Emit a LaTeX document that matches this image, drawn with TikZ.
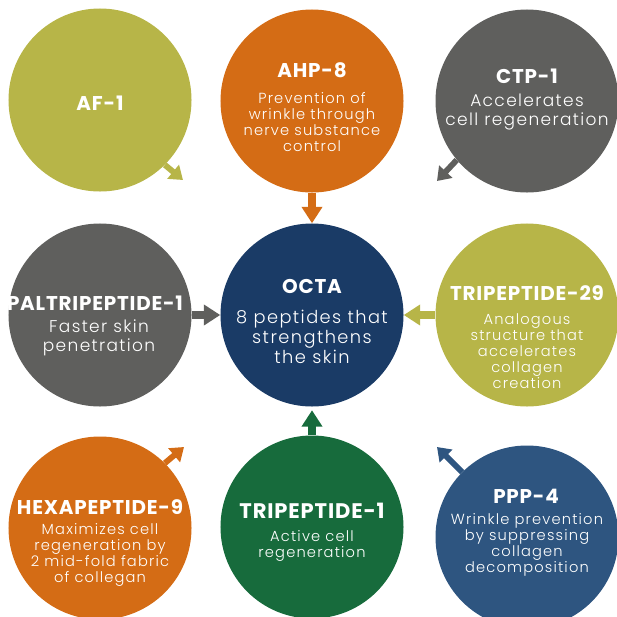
\documentclass[tikz,border=0pt]{standalone}
\usepackage{fontspec}
\setmainfont{Poppins}
\newfontfamily\bodyfont{Poppins Light}[LetterSpace=8]
\newfontfamily\titlefont{Poppins}[LetterSpace=4]
\usetikzlibrary{arrows.meta}

\definecolor{pepolive}{HTML}{B7B548}
\definecolor{peporange}{HTML}{D46C15}
\definecolor{pepgray}{HTML}{5F5F5D}
\definecolor{pepnavy}{HTML}{1A3B66}
\definecolor{pepgreen}{HTML}{176B3C}
\definecolor{pepblue}{HTML}{2E5580}

\tikzset{
  bubble/.style={circle, fill=#1, minimum size=5.49cm, inner sep=0pt},
  title/.style={text=white, inner sep=0pt, font=\titlefont\bfseries\fontsize{17}{19}\selectfont},
  bigtitle/.style={title, font=\titlefont\bfseries\fontsize{18}{20}\selectfont},
  blurb/.style={text=white, inner sep=0pt, align=center, font=\bodyfont\fontsize{12.5}{13.6}\selectfont},
  bigblurb/.style={blurb, font=\bodyfont\fontsize{14.5}{16.3}\selectfont},
  pointer/.style={draw=#1, line width=6pt, -{Triangle[length=14pt, width=17pt]}},
  diagpointer/.style={draw=#1, line width=5pt, -{Triangle[length=11pt, width=15pt]}}
}

\begin{document}
\begin{tikzpicture}[x=0.03cm, y=-0.03cm]
	\useasboundingbox (0,0) rectangle (616,617);

	% the nine circles
	\node[bubble=pepolive]  (af1)  at (100,100) {};
	\node[bubble=peporange] (ahp)  at (312,101) {};
	\node[bubble=pepgray]   (ctp)  at (527,101) {};
	\node[bubble=pepgray]   (paltri) at (100,315) {};
	\node[bubble=pepnavy]   (octa) at (312,315) {};
	\node[bubble=pepolive]  (tri29) at (527,315) {};
	\node[bubble=peporange] (hexa) at (100,528) {};
	\node[bubble=pepgreen]  (tri1) at (312,527) {};
	\node[bubble=pepblue]   (ppp)  at (527,537) {};

	% titles
	\node[title]    (af1-title)    at (100,103) {AF-1};
	\node[title]    (ahp-title)    at (312,70)  {AHP-8};
	\node[title]    (ctp-title)    at (527,76)  {CTP-1};
	\node[title]    (paltri-title) at (95,303)  {PALTRIPEPTIDE-1};
	\node[title]    (octa-title)   at (312,286) {OCTA};
	\node[title]    (tri29-title)  at (527,293) {TRIPEPTIDE-29};
	\node[title]    (hexa-title)   at (100,507) {HEXAPEPTIDE-9};
	\node[bigtitle] (tri1-title)   at (312,511) {TRIPEPTIDE-1};
	\node[title]    (ppp-title)    at (526,496) {PPP-4};

	% descriptions
	\node[blurb]    (ahp-text)    at (312,122) {Prevention of\\wrinkle through\\nerve substance\\control};
	\node[bigblurb] (ctp-text)    at (527,112) {Accelerates\\cell regeneration};
	\node[bigblurb] (paltri-text) at (99,338)  {Faster skin\\penetration};
	\node[bigblurb, font=\bodyfont\fontsize{15.2}{16.8}\selectfont]
	                (octa-text)   at (312,337) {8 peptides that\\strengthens\\the skin};
	\node[blurb]    (tri29-text)  at (527,351) {Analogous\\structure that\\accelerates\\collagen\\creation};
	\node[blurb]    (hexa-text)   at (100,555) {Maximizes cell\\regeneration by\\2 mid-fold fabric\\of collegan};
	\node[blurb]    (tri1-text)   at (312,546) {Active cell\\regeneration};
	\node[blurb]    (ppp-text)    at (527,545) {Wrinkle prevention\\by suppressing\\collagen\\decomposition};

	% free ends of the corner arrows
	\coordinate (af1-tip)  at (183,180);
	\coordinate (ctp-tip)  at (437,181);
	\coordinate (hexa-tip) at (184,447);
	\coordinate (ppp-tip)  at (437,447);

	% arrows
	\draw[pointer=peporange] (ahp.south) -- (octa.north);
	\draw[pointer=pepgray]   (paltri.east) -- (octa.west);
	\draw[pointer=pepolive]  (tri29.west) -- (octa.east);
	\draw[pointer=pepgreen]  (tri1.north) -- ([yshift=-3pt]octa.south);
	\draw[diagpointer=pepolive]  (af1.-45) -- (af1-tip);
	\draw[diagpointer=pepgray]   (ctp.220) -- (ctp-tip);
	\draw[diagpointer=peporange] (hexa.45) -- (hexa-tip);
	\draw[diagpointer=pepblue]   (ppp.135) -- (ppp-tip);
\end{tikzpicture}
\end{document}
